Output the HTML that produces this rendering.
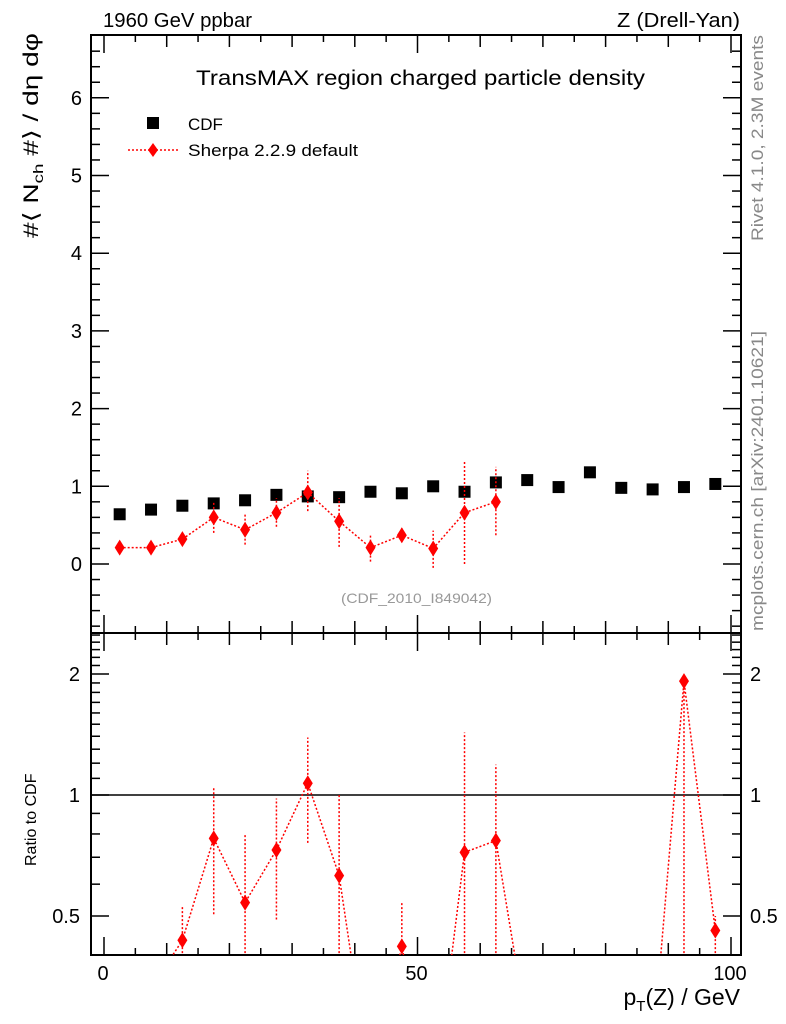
<!DOCTYPE html>
<html><head><meta charset="utf-8"><style>
html,body{margin:0;background:#fff;overflow:hidden;width:786px;height:1024px}
svg{display:block}
svg text{font-family:"Liberation Sans",sans-serif}
</style></head><body>
<svg id="c" width="786" height="1024" xmlns="http://www.w3.org/2000/svg">
<rect width="786" height="1024" fill="#fff"/>
<text x="103" y="27" font-size="20" textLength="149" lengthAdjust="spacingAndGlyphs">1960 GeV ppbar</text>
<text x="617" y="27" font-size="20" textLength="123" lengthAdjust="spacingAndGlyphs">Z (Drell-Yan)</text>
<text x="196" y="85" font-size="21" textLength="449" lengthAdjust="spacingAndGlyphs">TransMAX region charged particle density</text>
<text x="341" y="603" font-size="14" fill="#999" textLength="151" lengthAdjust="spacingAndGlyphs">(CDF_2010_I849042)</text>
<text transform="translate(763,241) rotate(-90)" font-size="17" fill="#888" textLength="206" lengthAdjust="spacingAndGlyphs">Rivet 4.1.0,  2.3M events</text>
<text transform="translate(763,631) rotate(-90)" font-size="17" fill="#888" textLength="300" lengthAdjust="spacingAndGlyphs">mcplots.cern.ch [arXiv:2401.10621]</text>
<text transform="translate(38,238) rotate(-90)" font-size="21" textLength="205" lengthAdjust="spacingAndGlyphs">#⟨ N<tspan font-size="14" dy="5">ch</tspan><tspan dy="-5"> #⟩ / dη dφ</tspan></text>
<text transform="translate(36,866) rotate(-90)" font-size="16">Ratio to CDF</text>
<text x="740" y="1005" font-size="23" text-anchor="end">p<tspan font-size="15" dy="6">T</tspan><tspan dy="-6">(Z) / GeV</tspan></text>
<g>
<rect x="147" y="117" width="12" height="12" fill="#000"/>
<text x="188" y="130" font-size="17">CDF</text>
<line x1="128" y1="150" x2="178" y2="150" stroke="red" stroke-width="1.5" stroke-dasharray="2,2"/>
<polygon points="153,143 158,150 153,157 148,150" fill="red"/>
<text x="188" y="156" font-size="17" textLength="170" lengthAdjust="spacingAndGlyphs">Sherpa 2.2.9 default</text>
</g>
<defs><clipPath id="cm"><rect x="91" y="35" width="650" height="598"/></clipPath><clipPath id="cr"><rect x="91" y="633" width="650" height="322"/></clipPath></defs>
<g id="axes"></g>
<g id="main" clip-path="url(#cm)"></g>
<g id="ratio" clip-path="url(#cr)"></g>
</svg>
<script>
const xs=[2.5,7.5,12.5,17.5,22.5,27.5,32.5,37.5,42.5,47.5,52.5,57.5,62.5,67.5,72.5,77.5,82.5,87.5,92.5,97.5];
const cdfVals=[0.64,0.70,0.75,0.78,0.82,0.89,0.87,0.86,0.93,0.91,1.00,0.93,1.05,1.08,0.99,1.18,0.98,0.96,0.99,1.03];
const sherpaX=[2.5,7.5,12.5,17.5,22.5,27.5,32.5,37.5,42.5,47.5,52.5,57.5,62.5];
const sherpaVals=[0.21,0.21,0.32,0.60,0.44,0.66,0.92,0.55,0.21,0.37,0.20,0.66,0.80];
const sherpaLo=[0.18,0.18,0.29,0.40,0.25,0.48,0.68,0.22,0.03,0.28,-0.05,0.0,0.37];
const sherpaHi=[0.24,0.24,0.35,0.80,0.65,0.85,1.20,0.85,0.38,0.48,0.43,1.32,1.25];
const ratioVals=[0.33,0.33,0.435,0.78,0.54,0.73,1.07,0.63,0.19,0.42,0.17,0.72,0.77,0.26,0.25,0.25,0.24,0.23,1.92,0.46];
const ratioLo=[0.3,0.3,0.3,0.505,0.3,0.49,0.76,0.3,0.1,0.3,0.1,0.3,0.3,0.2,0.2,0.2,0.2,0.2,0.3,0.3];
const ratioHi=[0.36,0.36,0.53,1.05,0.80,0.98,1.39,1.01,0.3,0.54,0.3,1.43,1.19,0.3,0.3,0.3,0.3,0.3,1.97,0.5];
const xTicksMajor=[0,50,100];
const yTicks=[0,1,2,3,4,5,6];
const rTicks=[0.5,1,2];

const NS="http://www.w3.org/2000/svg";
const X=v=>104+v*6.27;
const Y=v=>564-v*77.7;
const R=v=>795-121*Math.log2(v);
function mk(tag,attrs,parent){const e=document.createElementNS(NS,tag);for(const k in attrs)e.setAttribute(k,attrs[k]);document.getElementById(parent).appendChild(e);return e;}
let e;
e=mk('rect',{x:91,y:35,width:650,height:598,fill:'none',stroke:'#000','stroke-width':2},'axes');


e=mk('rect',{x:91,y:633,width:650,height:322,fill:'none',stroke:'#000','stroke-width':2},'axes');


for(let v=0;v<=100;v+=5){
  const L=(v%50===0)?18:(v%10===0?12:7);
  for(const [y0,d] of [[633,-1],[35,1],[955,-1],[633,1]]){
    e=mk('line',{x1:X(v),x2:X(v),y1:y0,y2:y0+d*L,stroke:'#000','stroke-width':1.5},'axes');
    
    
  }
}
xTicksMajor.forEach(v=>{
  e=mk('text',{x:X(v)-1,y:980,'font-size':20,'text-anchor':'middle'},'axes');e.textContent=v;
  
  
});
for(let i=-4;i<=34;i++){const v=i/5;const y=Y(v);if(y<36||y>632)continue;const L=(i%5===0)?18:9;
  for(const [x0,d] of [[91,1],[741,-1]]){
    e=mk('line',{x1:x0,x2:x0+d*L,y1:y,y2:y,stroke:'#000','stroke-width':1.5},'axes');
    
    
  }}
yTicks.forEach(v=>{
  e=mk('text',{x:82,y:Y(v)+7,'font-size':20,'text-anchor':'end'},'axes');e.textContent=v;
  
  
});
for(let i=4;i<=25;i++){const v=i/10;const y=R(v);if(y<634||y>954)continue;const L=(i===5||i===10||i===20)?18:9;
  for(const [x0,d] of [[91,1],[741,-1]]){
    e=mk('line',{x1:x0,x2:x0+d*L,y1:y,y2:y,stroke:'#000','stroke-width':1.5},'axes');
    
    
  }}
rTicks.forEach(v=>{
  e=mk('text',{x:80,y:R(v)+7,'font-size':20,'text-anchor':'end'},'axes');e.textContent=v;
  
  
  e=mk('text',{x:750,y:R(v)+7,'font-size':20},'axes');e.textContent=v;
  
  
});
e=mk('line',{x1:91,x2:741,y1:R(1),y2:R(1),stroke:'#000','stroke-width':1.5},'ratio');


xs.forEach((x,i)=>{
  e=mk('rect',{x:X(x)-6,y:Y(cdfVals[i])-6,width:12,height:12,fill:'#000'},'main');
  
  
});
e=mk('polyline',{points:sherpaX.map((x,i)=>X(x)+','+Y(sherpaVals[i])).join(' '),fill:'none',stroke:'red','stroke-width':1.5,'stroke-dasharray':'2,2'},'main');


sherpaX.forEach((x,i)=>{
  e=mk('line',{x1:X(x),x2:X(x),y1:Y(sherpaLo[i]),y2:Y(sherpaHi[i]),stroke:'red','stroke-width':1.5,'stroke-dasharray':'2,2'},'main');
  
  
  const cx=X(x),cy=Y(sherpaVals[i]);
  e=mk('polygon',{points:`${cx},${cy-8} ${cx+5},${cy} ${cx},${cy+8} ${cx-5},${cy}`,fill:'red'},'main');
  
  
});
e=mk('polyline',{points:xs.map((x,i)=>X(x)+','+R(ratioVals[i])).join(' '),fill:'none',stroke:'red','stroke-width':1.5,'stroke-dasharray':'2,2'},'ratio');


xs.forEach((x,i)=>{
  e=mk('line',{x1:X(x),x2:X(x),y1:R(ratioLo[i]),y2:R(ratioHi[i]),stroke:'red','stroke-width':1.5,'stroke-dasharray':'2,2'},'ratio');
  
  
  const cx=X(x),cy=R(ratioVals[i]);
  e=mk('polygon',{points:`${cx},${cy-8} ${cx+5},${cy} ${cx},${cy+8} ${cx-5},${cy}`,fill:'red'},'ratio');
  
  
});
</script>
</body></html>
